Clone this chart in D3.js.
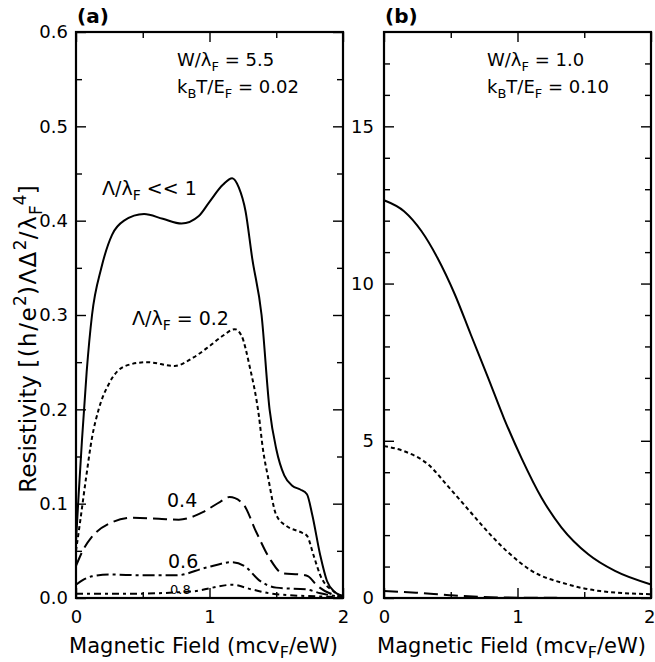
<!DOCTYPE html>
<html>
<head>
<meta charset="utf-8">
<script src="https://cdn.jsdelivr.net/npm/d3@7"></script>
<style>
  html, body { margin: 0; padding: 0; background: #fff; }
  svg { display: block; font-family: "DejaVu Sans", sans-serif; }
</style>
</head>
<body>
<svg id="chart" width="655" height="662"></svg>
<script>
// ---- Panel (a): W/λF = 5.5, kBT/EF = 0.02 ----
const fieldA0 = [0, 0.02, 0.045, 0.08, 0.12, 0.19, 0.27, 0.36, 0.51, 0.65, 0.79, 0.92, 1.0, 1.1, 1.17, 1.22, 1.27, 1.32, 1.39, 1.45, 1.50, 1.56, 1.62, 1.68, 1.73, 1.77, 1.83, 1.88, 1.94, 2.0];
const rhoA0   = [0.06, 0.11, 0.168, 0.24, 0.30, 0.35, 0.385, 0.40, 0.407, 0.402, 0.397, 0.405, 0.42, 0.438, 0.445, 0.435, 0.41, 0.36, 0.30, 0.20, 0.158, 0.13, 0.119, 0.115, 0.11, 0.088, 0.045, 0.018, 0.006, 0.002];

const fieldA2 = [0, 0.03, 0.075, 0.12, 0.17, 0.25, 0.37, 0.53, 0.74, 0.88, 1.0, 1.1, 1.19, 1.24, 1.30, 1.37, 1.40, 1.44, 1.50, 1.58, 1.68, 1.73, 1.78, 1.83, 1.93, 2.0];
const rhoA2   = [0.05, 0.08, 0.127, 0.17, 0.20, 0.228, 0.246, 0.25, 0.246, 0.255, 0.267, 0.278, 0.285, 0.278, 0.246, 0.193, 0.158, 0.127, 0.088, 0.076, 0.07, 0.066, 0.045, 0.024, 0.007, 0.002];

const fieldA4 = [0, 0.05, 0.12, 0.25, 0.42, 0.62, 0.77, 0.95, 1.08, 1.15, 1.25, 1.35, 1.45, 1.55, 1.68, 1.74, 1.80, 1.9, 2.0];
const rhoA4   = [0.034, 0.05, 0.065, 0.079, 0.085, 0.084, 0.083, 0.091, 0.102, 0.107, 0.10, 0.07, 0.042, 0.026, 0.025, 0.023, 0.014, 0.005, 0.002];

const fieldA6 = [0, 0.05, 0.12, 0.25, 0.5, 0.75, 0.97, 1.17, 1.27, 1.37, 1.5, 1.73, 1.83, 2.0];
const rhoA6   = [0.014, 0.019, 0.023, 0.025, 0.024, 0.024, 0.032, 0.038, 0.033, 0.019, 0.011, 0.009, 0.005, 0.001];

const fieldA8 = [0, 0.37, 0.87, 1.17, 1.32, 1.5, 2.0];
const rhoA8   = [0.0045, 0.0045, 0.007, 0.014, 0.009, 0.004, 0.001];

// ---- Panel (b): W/λF = 1.0, kBT/EF = 0.10 ----
const fieldB0 = [0, 0.15, 0.28, 0.40, 0.53, 0.65, 0.78, 0.90, 1.03, 1.18, 1.33, 1.53, 1.73, 2.0];
const rhoB0   = [12.65, 12.3, 11.67, 10.82, 9.66, 8.38, 7.0, 5.7, 4.45, 3.19, 2.24, 1.39, 0.86, 0.43];

const fieldB2 = [0, 0.15, 0.33, 0.48, 0.63, 0.80, 0.93, 1.10, 1.37, 1.62, 2.0];
const rhoB2   = [4.83, 4.67, 4.25, 3.55, 2.82, 2.0, 1.45, 0.88, 0.44, 0.22, 0.12];

const fieldB4 = [0, 0.24, 0.49, 0.74, 1.0, 1.5, 2.0];
const rhoB4   = [0.22, 0.17, 0.09, 0.03, 0.01, 0.002, 0.0];

// Tick values
const xMajor = [0, 1, 2];
const xMinor = [0.5, 1.5];
const yMajorA = [0, 0.1, 0.2, 0.3, 0.4, 0.5, 0.6];
const yMinorA = [0.05, 0.15, 0.25, 0.35, 0.45, 0.55];
const yMajorB = [0, 5, 10, 15];
const yMinorB = d3.range(1, 18).filter(v => v % 5 !== 0);

const svg = d3.select("#chart");
const plotTop = 32, plotBottom = 598;

// Draw a string with sub/superscript runs into a <text> element
function rich(sel, parts, fs) {
  let shift = 0;
  parts.forEach(p => {
    const target = p.sub ? 0.26 * fs : p.sup ? -0.42 * fs : 0;
    const t = sel.append("tspan").text(p.t).attr("dy", target - shift);
    if (p.sub || p.sup) t.attr("font-size", Math.round(fs * 0.74));
    if (p.ls) t.attr("letter-spacing", p.ls);
    shift = target;
  });
}

function panel(opts) {
  const g = svg.append("g");
  const x = d3.scaleLinear().domain([0, 2]).range([opts.x0, opts.x1]);
  const y = d3.scaleLinear().domain(opts.yDomain).range([plotBottom, plotTop]);

  const tickFont = (a) => a.selectAll("text").attr("font-family", "DejaVu Sans, sans-serif").attr("font-size", 18).attr("fill", "#000");
  const clean = (a) => { a.select(".domain").remove(); a.selectAll("line").attr("stroke", "#000").attr("stroke-width", 1.4); };

  // left axis (labelled)
  g.append("g").attr("transform", `translate(${opts.x0},0)`)
    .call(d3.axisLeft(y).tickValues(opts.yMajor).tickSize(-10).tickPadding(opts.yPad).tickFormat(opts.yFmt))
    .call(clean).call(tickFont);
  g.append("g").attr("transform", `translate(${opts.x0},0)`)
    .call(d3.axisLeft(y).tickValues(opts.yMinor).tickSize(-6).tickFormat(""))
    .call(clean);
  // right axis (mirror ticks)
  g.append("g").attr("transform", `translate(${opts.x1},0)`)
    .call(d3.axisRight(y).tickValues(opts.yMajor).tickSize(-10).tickFormat(""))
    .call(clean);
  g.append("g").attr("transform", `translate(${opts.x1},0)`)
    .call(d3.axisRight(y).tickValues(opts.yMinor).tickSize(-6).tickFormat(""))
    .call(clean);
  // bottom axis (labelled)
  const bx = g.append("g").attr("transform", `translate(0,${plotBottom})`)
    .call(d3.axisBottom(x).tickValues(xMajor).tickSize(-10).tickPadding(12).tickFormat(d3.format("d")))
    .call(clean).call(tickFont);
  if (opts.lastEnd) {
    bx.selectAll(".tick text").filter(d => d === 2).attr("text-anchor", "end").attr("x", opts.lastEnd);
  }
  g.append("g").attr("transform", `translate(0,${plotBottom})`)
    .call(d3.axisBottom(x).tickValues(xMinor).tickSize(-6).tickFormat(""))
    .call(clean);
  // top axis (mirror ticks)
  g.append("g").attr("transform", `translate(0,${plotTop})`)
    .call(d3.axisTop(x).tickValues(xMajor).tickSize(-10).tickFormat(""))
    .call(clean);
  g.append("g").attr("transform", `translate(0,${plotTop})`)
    .call(d3.axisTop(x).tickValues(xMinor).tickSize(-6).tickFormat(""))
    .call(clean);

  // frame
  g.append("rect")
    .attr("x", opts.x0).attr("y", plotTop)
    .attr("width", opts.x1 - opts.x0).attr("height", plotBottom - plotTop)
    .attr("fill", "none").attr("stroke", "#000").attr("stroke-width", 2.2);

  // curves
  const line = d3.line().x(d => x(d[0])).y(d => y(d[1])).curve(d3.curveMonotoneX);
  opts.series.forEach(s => {
    g.append("path")
      .datum(d3.zip(s.field, s.rho))
      .attr("d", line)
      .attr("fill", "none")
      .attr("stroke", "#000")
      .attr("stroke-width", s.width || 2)
      .attr("stroke-dasharray", s.dash || null);
  });

  // panel letter
  g.append("text").attr("x", opts.x0 + 1).attr("y", 23)
    .attr("font-size", 20).attr("font-weight", "bold").text(opts.letter);

  // x-axis title
  const xt = g.append("text")
    .attr("x", (opts.x0 + opts.x1) / 2 - 6).attr("y", 653)
    .attr("text-anchor", "middle").attr("font-size", 21);
  rich(xt, [{ t: "Magnetic Field (mcv" }, { t: "F", sub: true }, { t: "/eW)" }], 21);

  // parameter annotations
  const a1 = g.append("text").attr("x", opts.annX).attr("y", 66).attr("font-size", 18);
  rich(a1, [{ t: "W/λ" }, { t: "F", sub: true }, { t: " = " + opts.wl }], 18);
  const a2 = g.append("text").attr("x", opts.annX).attr("y", 93).attr("font-size", 18);
  rich(a2, [{ t: "k" }, { t: "B", sub: true }, { t: "T/E" }, { t: "F", sub: true }, { t: " = " + opts.kt }], 18);

  return { g, x, y };
}

const pa = panel({
  x0: 76, x1: 343, yDomain: [0, 0.6],
  yMajor: yMajorA, yMinor: yMinorA, yFmt: d3.format(".1f"), yPad: 8,
  letter: "(a)", annX: 177, wl: "5.5", kt: "0.02",
  series: [
    { field: fieldA0, rho: rhoA0 },
    { field: fieldA2, rho: rhoA2, dash: "4,3" },
    { field: fieldA4, rho: rhoA4, dash: "14,6" },
    { field: fieldA6, rho: rhoA6, dash: "12,4,3,4" },
    { field: fieldA8, rho: rhoA8, dash: "7,4,3,4" }
  ]
});

const pb = panel({
  x0: 384, x1: 651, yDomain: [0, 18],
  yMajor: yMajorB, yMinor: yMinorB, yFmt: d3.format("d"), yPad: 10,
  letter: "(b)", annX: 487, wl: "1.0", kt: "0.10", lastEnd: 4,
  series: [
    { field: fieldB0, rho: rhoB0 },
    { field: fieldB2, rho: rhoB2, dash: "4,3" },
    { field: fieldB4, rho: rhoB4, dash: "14,6" }
  ]
});

// curve labels in panel (a)
const l1 = pa.g.append("text").attr("x", 102).attr("y", 195).attr("font-size", 19);
rich(l1, [{ t: "Λ/λ" }, { t: "F", sub: true }, { t: " << 1" }], 19);
const l2 = pa.g.append("text").attr("x", 132).attr("y", 325).attr("font-size", 19);
rich(l2, [{ t: "Λ/λ" }, { t: "F", sub: true }, { t: " = 0.2" }], 19);
pa.g.append("text").attr("x", 167).attr("y", 507).attr("font-size", 19).text("0.4");
pa.g.append("text").attr("x", 168).attr("y", 568).attr("font-size", 19).text("0.6");
pa.g.append("text").attr("x", 170).attr("y", 594).attr("font-size", 13).text("0.8");

// shared y-axis title
const yt = svg.append("text")
  .attr("transform", "translate(36,339) rotate(-90)")
  .attr("text-anchor", "middle").attr("font-size", 23);
rich(yt, [
  { t: "Resistivity " },
  { t: "[(h/e", ls: 1.5 }, { t: "2", sup: true }, { t: ")ΛΔ", ls: 1.5 }, { t: "2", sup: true },
  { t: "/λ", ls: 1.5 }, { t: "F", sub: true }, { t: "4", sup: true }, { t: "]" }
], 23);
</script>
</body>
</html>
